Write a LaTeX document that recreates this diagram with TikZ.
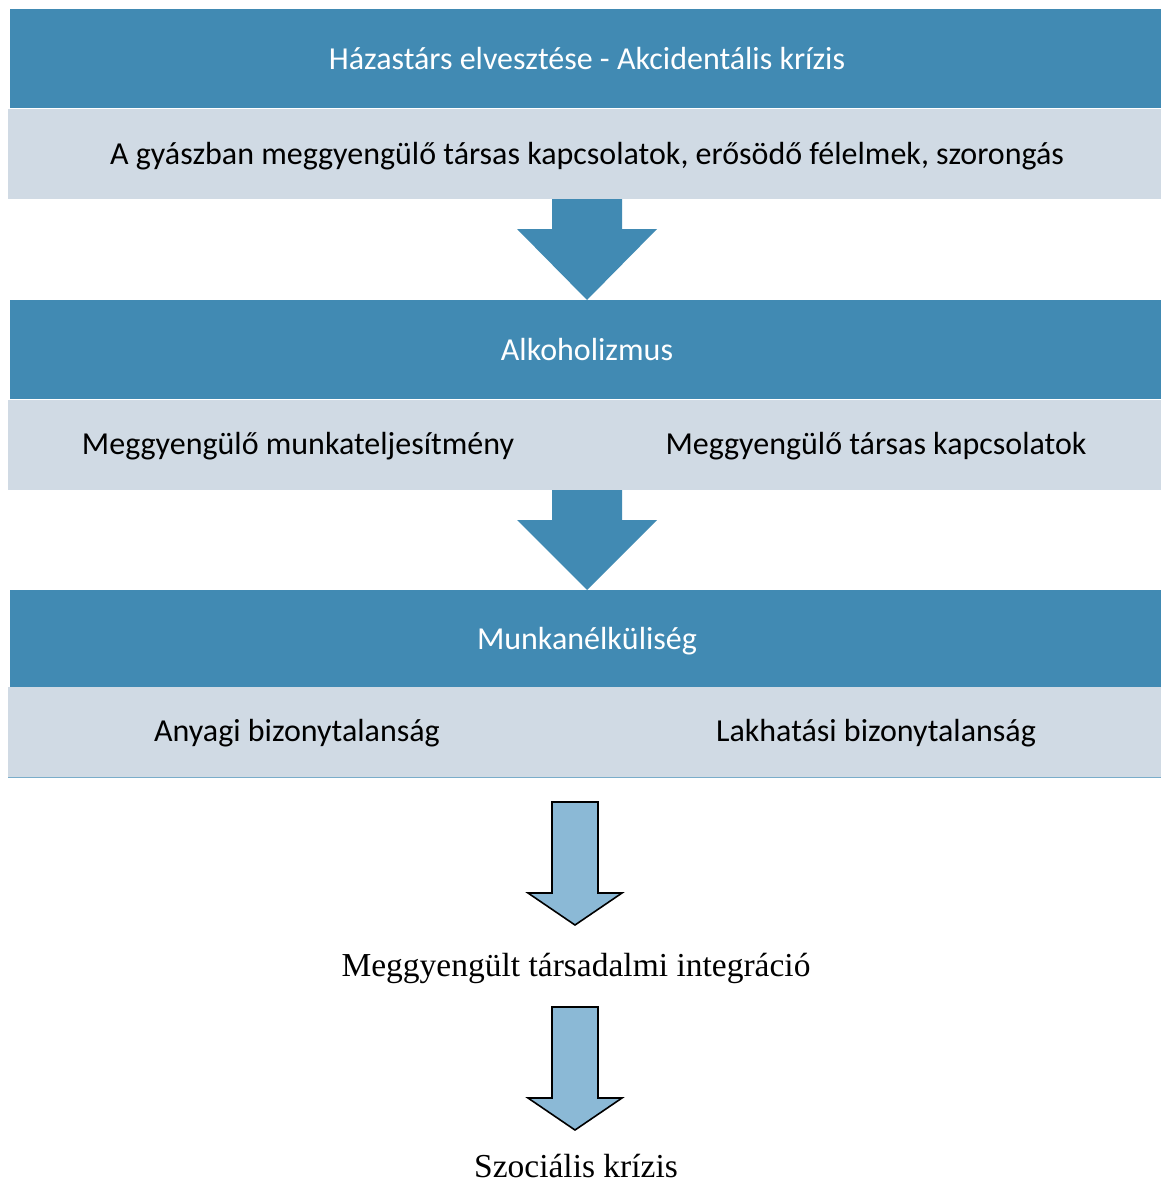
\documentclass[tikz,border=0pt]{standalone}
\usepackage{fontspec}
\setmainfont{Carlito}
\newfontfamily\serifface{Liberation Serif}
\usetikzlibrary{calc}
\definecolor{hdrblue}{RGB}{65,138,179}
\definecolor{lightbox}{RGB}{208,218,228}
\definecolor{arrowfill}{RGB}{139,185,214}
\tikzset{
  hdr/.style={rectangle, fill=hdrblue, draw=none, inner sep=0pt, anchor=north west,
    minimum width=1151pt, minimum height=99pt},
  sub/.style={rectangle, fill=lightbox, draw=none, inner sep=0pt, anchor=north west,
    minimum width=1153pt, minimum height=90pt},
  subtxt/.style={inner sep=0pt, text=black, font=\fontsize{32}{36}\selectfont},
  blockarrow/.style={fill=hdrblue, draw=none},
  outarrow/.style={fill=arrowfill, draw=black, line width=1.6pt, line join=miter},
  serifline/.style={inner sep=0pt, font=\serifface\fontsize{33.5}{36}\selectfont}
}
\begin{document}
\begin{tikzpicture}[x=1pt,y=-1pt]
\useasboundingbox[fill=white] (0,0) rectangle (1161,1185);
% level 1
\node[hdr] (h1) at (10,9) {};
\node[subtxt, text=white] (h1t) at (587,59) {Házastárs elvesztése - Akcidentális krízis};
\node[sub] (s1) at (8,109) {};
\node[subtxt] (s1t) at (587,156) {A gyászban meggyengülő társas kapcsolatok, erősödő félelmek, szorongás};
% arrow 1
\coordinate (a1) at (587,199);
\node[hdr, minimum height=99pt] (h2) at (10,300) {};
\fill[blockarrow] ($(a1)+(-35,0)$) -- ($(a1)+(35,0)$) -- ($(a1)+(35,30)$) -- ($(a1)+(70,30)$)
  -- (a1 |- h2.north) -- ($(a1)+(-70,30)$) -- ($(a1)+(-35,30)$) -- cycle;
% level 2
\node[subtxt, text=white] (h2t) at (587,350) {Alkoholizmus};
\node[sub] (s2) at (8,400) {};
\node[subtxt] (s2l) at (298,446) {Meggyengülő munkateljesítmény};
\node[subtxt] (s2r) at (876,446) {Meggyengülő társas kapcsolatok};
% arrow 2
\coordinate (a2) at (587,490);
\node[hdr, minimum height=97pt] (h3) at (10,590) {};
\fill[blockarrow] ($(a2)+(-35,0)$) -- ($(a2)+(35,0)$) -- ($(a2)+(35,30)$) -- ($(a2)+(70,30)$)
  -- (a2 |- h3.north) -- ($(a2)+(-70,30)$) -- ($(a2)+(-35,30)$) -- cycle;
% level 3
\node[subtxt, text=white] (h3t) at (587,641) {Munkanélküliség};
\node[sub] (s3) at (8,687) {};
\draw[hdrblue!70, line width=1.2pt] (s3.south west) -- (s3.south east);
\node[subtxt] (s3l) at (297,733) {Anyagi bizonytalanság};
\node[subtxt] (s3r) at (876,733) {Lakhatási bizonytalanság};
% outline arrows and serif texts
\node[serifline] (t1) at (576,968) {Meggyengült társadalmi integráció};
\node[serifline] (t2) at (576,1166) {Szociális krízis};
\coordinate (o1) at (575,802);
\draw[outarrow] ($(o1)+(-23,0)$) -- ($(o1)+(23,0)$) -- ($(o1)+(23,91)$) -- ($(o1)+(47,91)$)
  -- ($(o1)+(0,123)$) -- ($(o1)+(-47,91)$) -- ($(o1)+(-23,91)$) -- cycle;
\coordinate (o2) at (575,1007);
\draw[outarrow] ($(o2)+(-23,0)$) -- ($(o2)+(23,0)$) -- ($(o2)+(23,91)$) -- ($(o2)+(47,91)$)
  -- ($(o2)+(0,123)$) -- ($(o2)+(-47,91)$) -- ($(o2)+(-23,91)$) -- cycle;
\end{tikzpicture}
\end{document}
